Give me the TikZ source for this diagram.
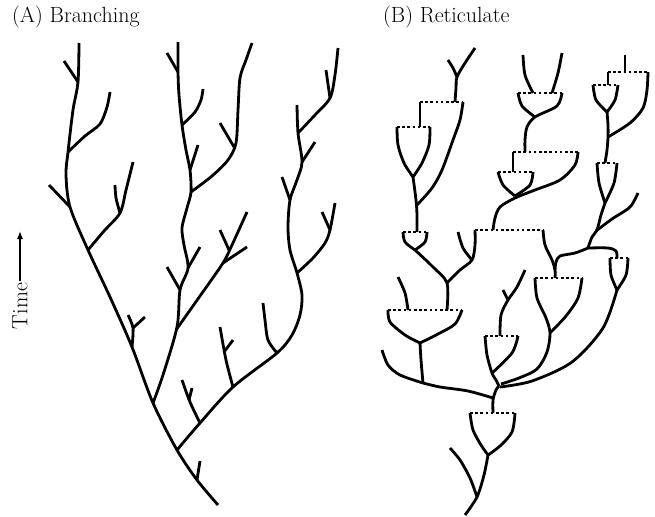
\documentclass[tikz,border=0pt]{standalone}
\usepackage{fontspec}
\usetikzlibrary{arrows.meta}

\begin{document}
\begin{tikzpicture}[x=1pt,y=-1pt,
    branch/.style={line width=2.8pt,line join=round},
    fuse/.style={line width=2.6pt,dash pattern=on 2.6pt off 2.6pt},
    title/.style={anchor=base west,inner sep=0pt,font=\fontsize{22}{26}\selectfont}]
  \useasboundingbox (0,0) rectangle (655,516);

  \node[title] (ta) at (12,23) {(A) Branching};
  \node[title] (tb) at (383,23) {(B) Reticulate};
  \node[rotate=90,inner sep=2pt,font=\fontsize{22}{26}\selectfont] (time) at (20,306) {Time};
  \coordinate (tip) at (20,231);
  \draw[line width=1.3pt,-{Latex[length=8pt,width=6pt]}] (time.east) -- (tip);

  % (A) branching
  \draw[branch] plot[smooth] coordinates {(218,505) (197,480) (177,450) (153,403) (132,347) (110,297) (88,250) (70,207) (66,175) (68,152) (73,110) (78,82) (79,43)};
  \draw[branch] (197,480) -- (200,461);
  \draw[branch] plot[smooth] coordinates {(132,347) (133,328) (128,315)};
  \draw[branch] (133,328) -- (145,317);
  \draw[branch] plot[smooth] coordinates {(88,250) (104,231) (120,213) (126,190) (133,162)};
  \draw[branch] plot[smooth] coordinates {(120,213) (116,198) (115,185)};
  \draw[branch] (70,207) -- (49,185);
  \draw[branch] plot[smooth] coordinates {(68,152) (85,136) (100,124) (107,107) (110,92)};
  \draw[branch] (78,82) -- (64,61);

  \draw[branch] plot[smooth] coordinates {(153,403) (163,375) (177,327) (180,290) (188,268) (184,245) (182,228) (187,208) (191,192) (190,170) (186,150) (182,125) (179,95) (178,72) (178,42)};
  \draw[branch] (180,290) -- (167,267);
  \draw[branch] (188,268) -- (200,247);
  \draw[branch] plot[smooth] coordinates {(176,330) (200,296) (223,263) (232,245) (247,212)};
  \draw[branch] (223,263) -- (247,247);
  \draw[branch] (229,250) -- (220,230);
  \draw[branch] plot[smooth] coordinates {(191,192) (212,176) (228,160) (236,143) (238,110) (240,78) (246,60) (252,43)};
  \draw[branch] (234,147) -- (220,123);
  \draw[branch] (190,170) -- (198,145);
  \draw[branch] plot[smooth] coordinates {(182,125) (195,112) (201,100) (203,89)};
  \draw[branch] (178,72) -- (167,53);

  \draw[branch] plot[smooth] coordinates {(177,450) (200,423) (233,387) (277,353) (292,335) (300,315) (302,295) (297,273) (290,250) (288,227) (290,200) (297,180) (302,162) (298,133) (297,105)};
  \draw[branch] plot[smooth] coordinates {(200,423) (190,402) (182,380)};
  \draw[branch] (189,400) -- (192,388);
  \draw[branch] plot[smooth] coordinates {(233,387) (226,360) (220,327)};
  \draw[branch] (224,352) -- (233,340);
  \draw[branch] plot[smooth] coordinates {(277,353) (268,340) (265,320) (263,303)};
  \draw[branch] plot[smooth] coordinates {(297,273) (313,258) (325,243) (330,230) (335,203)};
  \draw[branch] (330,230) -- (322,212);
  \draw[branch] (290,200) -- (282,177);
  \draw[branch] (302,162) -- (315,142);
  \draw[branch] plot[smooth] coordinates {(298,133) (315,115) (330,98) (335,75) (338,48)};
  \draw[branch] (330,98) -- (326,70);

  % (B) reticulate
  \draw[branch] plot[smooth] coordinates {(465,515) (477,497) (484,475) (488,455)};
  \draw[branch] plot[smooth] coordinates {(477,497) (470,478) (460,460) (450,448)};
  \draw[branch] plot[smooth] coordinates {(470,413) (473,430) (481,445) (488,455)};
  \draw[branch] plot[smooth] coordinates {(515,413) (512,432) (500,446) (488,455)};
  \draw[fuse] (470,413) -- (515,413);
  \draw[branch] plot[smooth] coordinates {(493,413) (493,400) (496,390) (499,386)};
  \draw[branch] plot[smooth] coordinates {(493,398) (468,391) (440,387) (423,383)};
  \draw[branch] plot[smooth] coordinates {(423,383) (400,375) (388,365) (382,350)};
  \draw[branch] plot[smooth] coordinates {(423,383) (421,360) (420,343)};
  \draw[branch] plot[smooth] coordinates {(388,310) (390,322) (405,335) (420,343)};
  \draw[branch] plot[smooth] coordinates {(462,310) (455,324) (438,334) (420,343)};
  \draw[fuse] (388,310) -- (462,310);
  \draw[branch] plot[smooth] coordinates {(408,310) (405,293) (398,277)};
  \draw[branch] plot[smooth] coordinates {(447,310) (447,283) (433,267) (415,250)};
  \draw[branch] plot[smooth] coordinates {(447,283) (460,270) (472,260) (475,245) (475,230)};
  \draw[branch] plot[smooth] coordinates {(472,260) (463,248) (458,232)};
  \draw[branch] plot[smooth] coordinates {(403,232) (405,242) (415,250)};
  \draw[branch] plot[smooth] coordinates {(427,232) (425,242) (415,250)};
  \draw[fuse] (403,232) -- (427,232);
  \draw[branch] plot[smooth] coordinates {(417,232) (417,215) (416,200) (413,177)};
  \draw[branch] plot[smooth] coordinates {(417,205) (432,188) (442,170) (453,140) (460,120) (463,102)};
  \draw[branch] plot[smooth] coordinates {(397,127) (398,145) (404,163) (413,177)};
  \draw[branch] plot[smooth] coordinates {(430,127) (429,145) (422,163) (413,177)};
  \draw[fuse] (397,127) -- (430,127);
  \draw[branch] (420,127) -- (420,102);
  \draw[fuse] (420,102) -- (463,102);
  \draw[branch] plot[smooth] coordinates {(455,102) (456,88) (457,77) (465,63) (475,48)};
  \draw[branch] plot[smooth] coordinates {(457,77) (453,68) (448,60)};

  \draw[branch] plot[smooth] coordinates {(523,55) (525,75) (533,93)};
  \draw[branch] plot[smooth] coordinates {(562,53) (558,73) (552,93)};
  \draw[fuse] (518,93) -- (562,93);
  \draw[branch] plot[smooth] coordinates {(518,93) (522,106) (535,117)};
  \draw[branch] plot[smooth] coordinates {(562,93) (557,106) (535,117) (527,127) (525,140) (525,152)};
  \draw[fuse] (513,152) -- (578,152);
  \draw[branch] (513,152) -- (513,172);
  \draw[branch] plot[smooth] coordinates {(498,172) (503,185) (515,196)};
  \draw[branch] plot[smooth] coordinates {(533,172) (530,185) (515,196)};
  \draw[fuse] (498,172) -- (533,172);
  \draw[branch] plot[smooth] coordinates {(578,152) (575,165) (560,180) (535,190) (515,198) (500,207) (495,218) (493,230)};
  \draw[fuse] (475,230) -- (543,230);
  \draw[branch] plot[smooth] coordinates {(543,230) (545,245) (552,260) (555,270) (555,278)};
  \draw[branch] plot[smooth] coordinates {(588,248) (575,253) (560,256) (556,262) (555,270)};

  \draw[branch] plot[smooth] coordinates {(535,278) (537,298) (546,318) (550,333) (547,352) (537,369) (519,378) (501,384)};
  \draw[branch] plot[smooth] coordinates {(582,278) (578,298) (566,316) (550,333)};
  \draw[fuse] (535,278) -- (582,278);
  \draw[branch] plot[smooth] coordinates {(485,336) (487,355) (492,373) (496,380) (499,386)};
  \draw[branch] plot[smooth] coordinates {(518,336) (512,353) (492,373)};
  \draw[fuse] (485,336) -- (518,336);
  \draw[branch] plot[smooth] coordinates {(500,336) (501,315) (508,300) (517,287) (525,270)};
  \draw[branch] (508,300) -- (503,290);

  \draw[branch] plot[smooth] coordinates {(500,387) (532,381) (572,362) (603,328) (617,290)};
  \draw[branch] plot[smooth] coordinates {(610,258) (611,275) (617,290)};
  \draw[branch] plot[smooth] coordinates {(628,258) (626,275) (617,290)};
  \draw[fuse] (610,258) -- (628,258);
  \draw[branch] plot[smooth] coordinates {(617,258) (616,251) (608,248) (588,248)};
  \draw[branch] plot[smooth] coordinates {(588,248) (592,237) (597,230) (601,215) (605,203)};
  \draw[branch] plot[smooth] coordinates {(596,231) (612,219) (630,207) (638,193)};
  \draw[branch] plot[smooth] coordinates {(597,163) (599,183) (605,203)};
  \draw[branch] plot[smooth] coordinates {(617,163) (614,183) (605,203)};
  \draw[fuse] (597,163) -- (617,163);
  \draw[branch] plot[smooth] coordinates {(605,163) (607,150) (608,137) (608,125) (607,112)};
  \draw[branch] plot[smooth] coordinates {(648,72) (647,90) (643,108) (630,123) (608,137)};
  \draw[branch] plot[smooth] coordinates {(593,85) (596,100) (607,112)};
  \draw[branch] plot[smooth] coordinates {(618,85) (615,100) (607,112)};
  \draw[fuse] (593,85) -- (618,85);
  \draw[branch] (608,72) -- (608,85);
  \draw[fuse] (608,72) -- (648,72);
  \draw[branch] (625,55) -- (625,72);
\end{tikzpicture}
\end{document}
